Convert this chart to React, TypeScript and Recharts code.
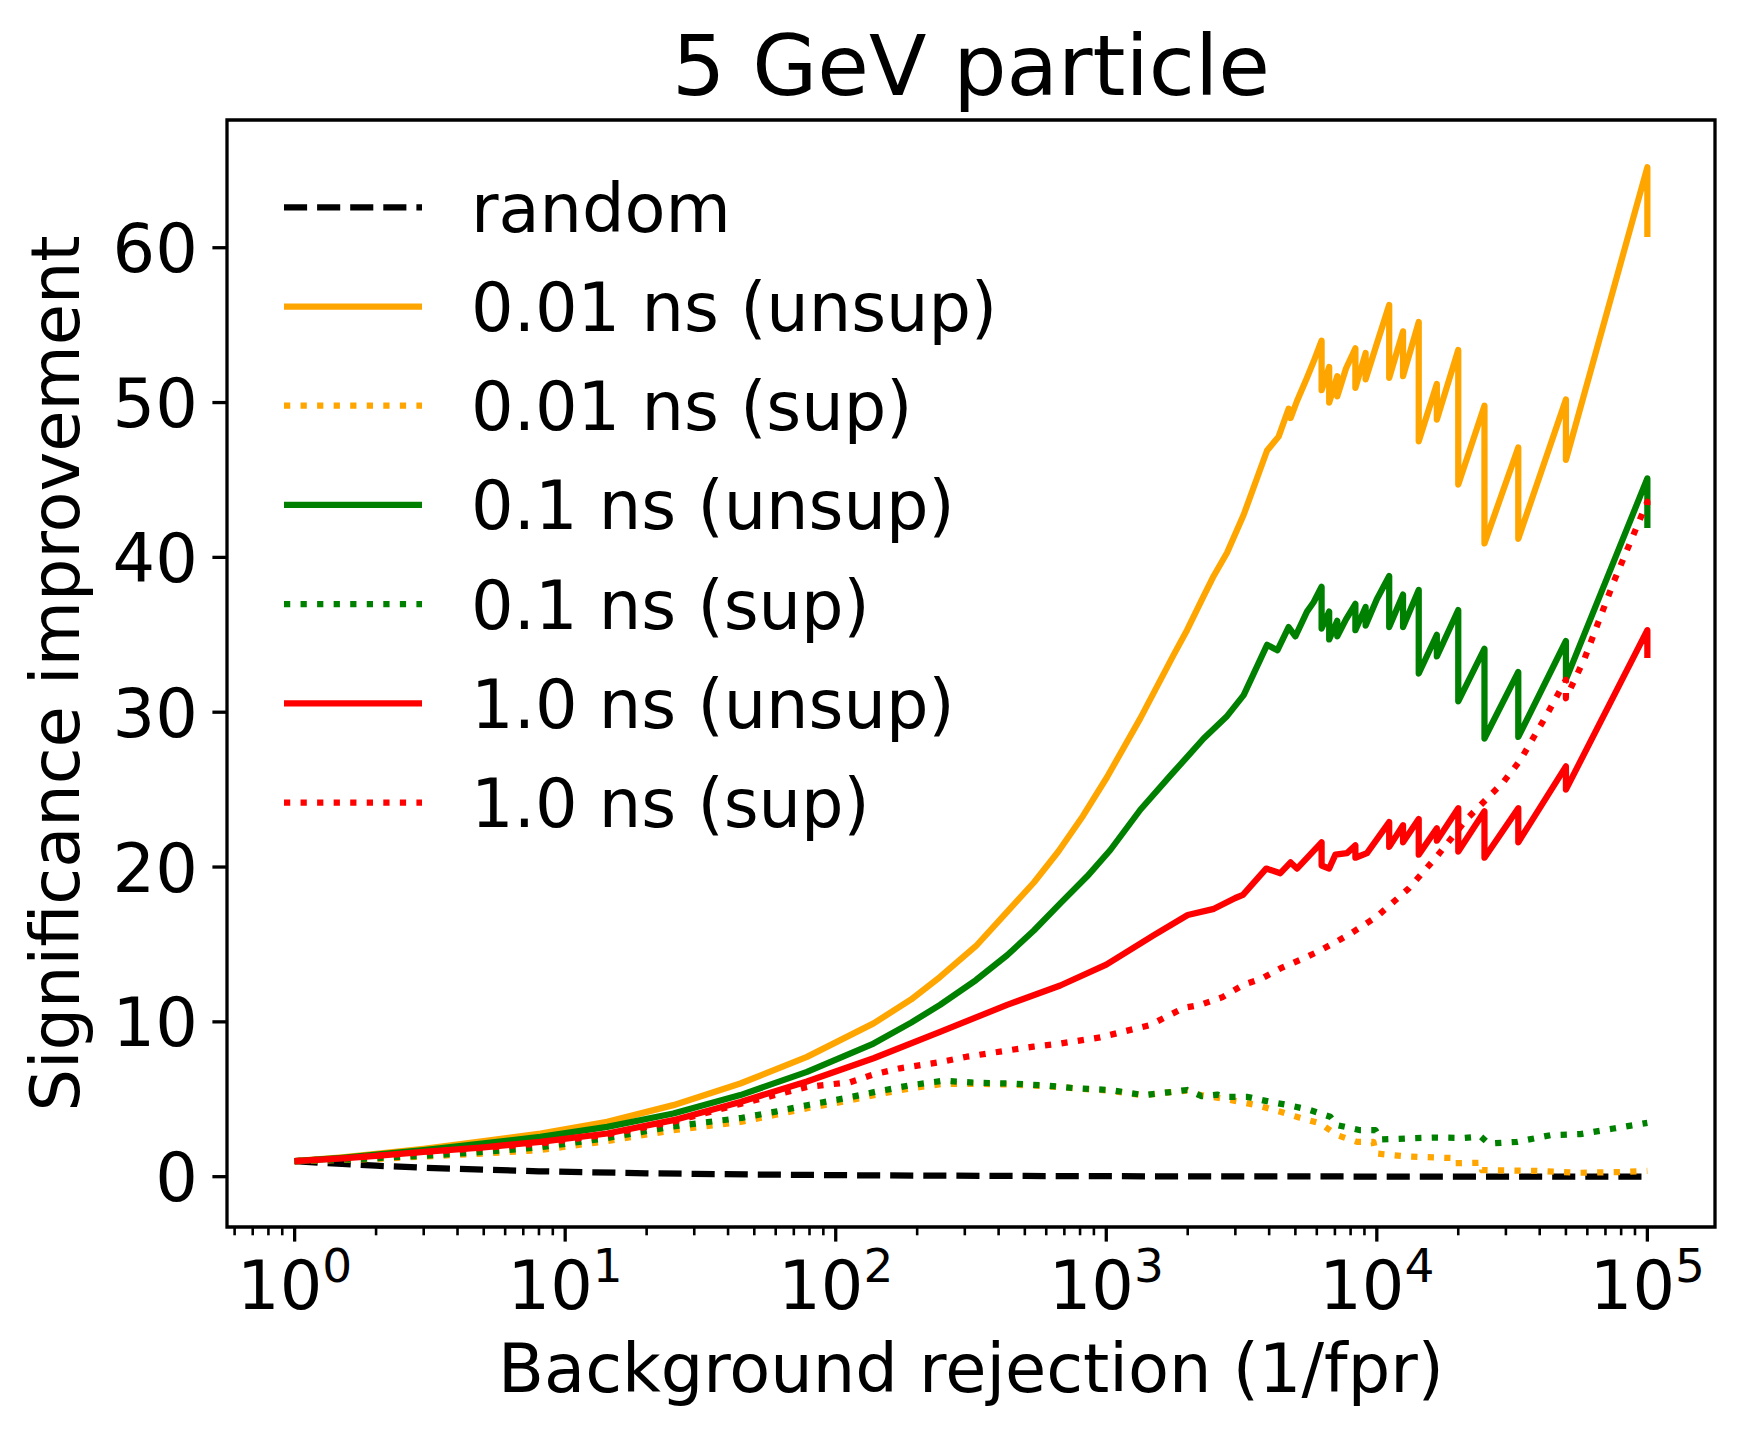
import React from "react";
import {
  LineChart,
  Line,
  XAxis,
  YAxis,
  ReferenceArea,
  Legend,
} from "recharts";

// [background rejection, significance improvement]
type Pt = [number, number];

const randomCut: Pt[] = [
  [1, 1.0], [1.5, 0.82], [2, 0.71], [3, 0.58], [5, 0.45], [8, 0.35], [12, 0.29],
  [20, 0.22], [30, 0.18], [50, 0.14], [100, 0.1], [200, 0.07], [500, 0.045],
  [1000, 0.032], [3000, 0.018], [10000, 0.01], [100000, 0.003],
];

const unsup001: Pt[] = [
  [1, 1.0], [1.5, 1.25], [2, 1.47], [3, 1.8], [5, 2.3], [8.1, 2.79],
  [14.3, 3.54], [25.1, 4.62], [44.4, 6.02], [78.3, 7.74], [138, 9.9],
  [190, 11.45], [243, 12.9], [330, 14.9], [430, 17.1], [540, 19.0],
  [665, 21.0], [820, 23.3], [1006, 25.8], [1336, 29.6],
  [1774, 33.7], [1988, 35.3], [2290, 37.5], [2495, 38.8], [2795, 40.3],
  [3220, 42.75], [3930, 46.9], [4335, 47.8], [4720, 49.6], [4800, 49.0],
  [5070, 50.1], [5520, 51.6], [5840, 52.65], [6250, 54.0], [6250, 50.8],
  [6667, 52.3], [6667, 50.0], [7143, 51.7], [7143, 50.4], [7692, 52.2],
  [8333, 53.5], [8333, 50.95], [9091, 53.2], [9091, 51.5], [10000, 53.8],
  [11111, 56.3], [11111, 51.6], [12500, 54.6], [12500, 51.7], [14286, 55.2],
  [14286, 47.5], [16667, 51.2], [16667, 48.9], [20000, 53.4], [20000, 44.7],
  [25000, 49.8], [25000, 40.9], [33333, 47.1], [33333, 41.2], [50000, 50.2],
  [50000, 46.3], [100000, 65.2], [100000, 60.7],
];

const sup001: Pt[] = [
  [1, 1.0], [1.5, 1.08], [2, 1.15], [3, 1.3], [5, 1.5], [8.1, 1.72],
  [14.3, 2.3], [25, 3.0], [45, 3.55], [60, 4.0], [80, 4.45], [107, 4.85],
  [142, 5.3], [188, 5.7], [251, 6.0], [333, 6.0], [442, 5.95], [586, 5.85],
  [780, 5.7], [1035, 5.55], [1374, 5.25], [1700, 5.45], [1990, 5.55],
  [2230, 5.27], [2790, 5.0], [3600, 4.62], [4400, 4.19], [5200, 3.8],
  [6180, 3.44], [7130, 2.68], [8450, 2.25], [9720, 2.25], [9900, 1.5],
  [12600, 1.32], [16200, 1.24], [19500, 1.2], [19500, 0.87], [24500, 0.9],
  [24500, 0.42], [38000, 0.38], [55000, 0.25], [80000, 0.3], [100000, 0.38],
];

const unsup01: Pt[] = [
  [1, 1.0], [1.5, 1.22], [2, 1.42], [3, 1.72], [5, 2.15], [8.1, 2.57],
  [14.3, 3.22], [25.1, 4.08], [44.4, 5.27], [78.3, 6.77], [138, 8.6],
  [190, 9.95], [243, 11.1], [330, 12.7], [430, 14.3], [540, 15.9],
  [676, 17.65], [850, 19.4], [1035, 21.1], [1336, 23.7],
  [1725, 25.9], [1988, 27.1], [2290, 28.3], [2780, 29.7], [3220, 31.1],
  [3930, 34.35], [4290, 34.0], [4720, 35.5], [5000, 34.9], [5520, 36.5],
  [5840, 37.1], [6250, 38.1], [6250, 35.4], [6667, 36.5], [6667, 34.7],
  [7143, 35.9], [7143, 34.9], [7692, 36.0], [8333, 37.0], [8333, 35.3],
  [9091, 36.8], [9091, 35.6], [10000, 37.3], [11111, 38.8], [11111, 35.5],
  [12500, 37.6], [12500, 35.5], [14286, 37.9], [14286, 32.5], [16667, 35.0],
  [16667, 33.6], [20000, 36.6], [20000, 30.7], [25000, 34.1], [25000, 28.3],
  [33333, 32.6], [33333, 28.4], [50000, 34.6], [50000, 32.1], [100000, 45.1],
  [100000, 41.9],
];

const sup01: Pt[] = [
  [1, 1.0], [1.5, 1.1], [2, 1.2], [3, 1.35], [5, 1.6], [8.1, 1.9],
  [14.3, 2.5], [25, 3.25], [45, 3.8], [60, 4.2], [80, 4.65], [107, 5.05],
  [142, 5.5], [188, 5.9], [251, 6.2], [333, 6.06], [442, 6.02], [586, 5.9],
  [780, 5.7], [1035, 5.6], [1374, 5.27], [1700, 5.45], [1990, 5.6],
  [2250, 5.2], [2570, 5.3], [2760, 5.16], [3310, 5.16], [4040, 4.83],
  [4710, 4.62], [5680, 4.3], [6730, 3.87], [7130, 3.33], [8690, 3.0],
  [9890, 3.0], [10300, 2.4], [12900, 2.47], [16600, 2.53], [20900, 2.5],
  [24200, 2.6], [25900, 2.14], [33000, 2.25], [43800, 2.68], [56500, 2.75],
  [75000, 3.11], [100000, 3.48],
];

const unsup1: Pt[] = [
  [1, 1.0], [1.5, 1.19], [2, 1.35], [3, 1.6], [5, 1.9], [8.1, 2.25],
  [14.3, 2.79], [25.1, 3.65], [44.4, 4.83], [78.3, 6.15], [138, 7.65],
  [243, 9.35], [430, 11.1], [676, 12.35], [1000, 13.7], [1500, 15.6],
  [2000, 16.9], [2500, 17.3], [3000, 18.0], [3200, 18.2], [3900, 19.9],
  [4400, 19.6], [4800, 20.3], [5070, 19.9], [6250, 21.6], [6250, 20.1],
  [6667, 19.9], [7030, 20.8], [7760, 20.9], [8333, 21.4], [8333, 20.6],
  [9200, 20.9], [11111, 22.9], [11111, 21.3], [12500, 22.7], [12500, 21.6],
  [14286, 23.1], [14286, 20.8], [16667, 22.5], [16667, 21.7], [20000, 23.8],
  [20000, 21.0], [25000, 23.6], [25000, 20.6], [33333, 23.8], [33333, 21.6],
  [50000, 26.5], [50000, 25.0], [100000, 35.3], [100000, 33.5],
];

const sup1: Pt[] = [
  [1, 1.0], [1.5, 1.18], [2, 1.34], [3, 1.57], [5, 1.87], [8.1, 2.15],
  [14.3, 2.72], [25.1, 3.55], [44.4, 4.7], [78.3, 5.8], [113, 6.1],
  [138, 6.6], [173, 7.0], [243, 7.4], [305, 7.75], [430, 8.15], [538, 8.4],
  [676, 8.6], [950, 9.0], [1455, 9.8], [1932, 10.9], [2230, 11.1],
  [2690, 11.6], [3220, 12.4], [3760, 12.8], [4400, 13.45], [5200, 14.0],
  [6000, 14.5], [7130, 15.2], [8000, 15.7], [10000, 16.8], [13100, 18.6],
  [16700, 20.7], [21500, 23.1], [29400, 25.5], [33900, 26.9], [42700, 29.9],
  [50000, 32.1], [50000, 30.9], [58700, 33.5], [75000, 38.4], [100000, 43.6],
  [100000, 42.8],
];

const seriesNames = [
  "random",
  "0.01 ns (unsup)",
  "0.01 ns (sup)",
  "0.1 ns (unsup)",
  "0.1 ns (sup)",
  "1.0 ns (unsup)",
  "1.0 ns (sup)",
];
const seriesData = [randomCut, unsup001, sup001, unsup01, sup01, unsup1, sup1];
const seriesColors = ["#000000", "#FFA500", "#FFA500", "#008000", "#008000", "#FF0000", "#FF0000"];
const seriesStyles = ["dashed", "solid", "dotted", "solid", "dotted", "solid", "dotted"];

const xMajorTicks = [1, 10, 100, 1000, 10000, 100000];
const xTickExponents = ["0", "1", "2", "3", "4", "5"];
const xMinorTicks = [
  0.6, 0.7, 0.8, 0.9,
  2, 3, 4, 5, 6, 7, 8, 9,
  20, 30, 40, 50, 60, 70, 80, 90,
  200, 300, 400, 500, 600, 700, 800, 900,
  2000, 3000, 4000, 5000, 6000, 7000, 8000, 9000,
  20000, 30000, 40000, 50000, 60000, 70000, 80000, 90000,
];
const yTicks = [0, 10, 20, 30, 40, 50, 60];

const W = 1744;
const H = 1436;
const FONT = "DejaVu Sans";
const LW = 6.25;
const X_MIN = Math.pow(10, -0.25);
const X_MAX = Math.pow(10, 5.25);
const Y_MIN = -3.25;
const Y_MAX = 68.25;

const dashFor = (s: string) =>
  s === "dashed" ? "23.1 10" : s === "dotted" ? "6.25 10.3" : undefined;

function XTick(props: any) {
  const { x, y, payload } = props;
  const v = payload.value as number;
  const idx = xMajorTicks.indexOf(v);
  const major = idx >= 0;
  return (
    <g>
      <line x1={x} x2={x} y1={y} y2={y + (major ? 14.6 : 8.3)} stroke="#000" strokeWidth={major ? 3.3 : 2.6} />
      {major && (
        <text x={x} y={y + 82} textAnchor="middle" fontSize={67} fontFamily={FONT} fill="#000">
          10
          <tspan dy={-27} fontSize={47}>
            {xTickExponents[idx]}
          </tspan>
        </text>
      )}
    </g>
  );
}

function YTick(props: any) {
  const { x, y, payload } = props;
  return (
    <g>
      <line x1={x - 14.6} x2={x} y1={y} y2={y} stroke="#000" strokeWidth={3.3} />
      <text x={x - 29.2} y={y + 24.5} textAnchor="end" fontSize={67} fontFamily={FONT} fill="#000">
        {payload.value}
      </text>
    </g>
  );
}

function LegendBox() {
  return (
    <svg width={1200} height={860} style={{ display: "block" }}>
      {seriesNames.map((name, i) => {
        const cy = 207.3 + i * 99.2;
        return (
          <g key={name}>
            <line
              x1={284}
              x2={422}
              y1={cy}
              y2={cy}
              stroke={seriesColors[i]}
              strokeWidth={LW}
              strokeDasharray={dashFor(seriesStyles[i])}
            />
            <text x={471} y={cy + 24.5} fontSize={67} fontFamily={FONT} fill="#000">
              {name}
            </text>
          </g>
        );
      })}
    </svg>
  );
}

export default function App() {
  const allTicks = [...xMinorTicks, ...xMajorTicks].sort((a, b) => a - b);
  return (
    <div style={{ position: "absolute", left: 0, top: 0, width: W, height: H, background: "#fff" }}>
      <LineChart
        width={W}
        height={H}
        margin={{ top: 120, right: 29, left: 107, bottom: 59 }}
      >
        <XAxis
          dataKey="x"
          type="number"
          scale="log"
          domain={[X_MIN, X_MAX]}
          allowDataOverflow
          ticks={allTicks}
          interval={0}
          tick={<XTick />}
          tickSize={0}
          tickMargin={0}
          tickLine={false}
          axisLine={false}
          height={150}
        />
        <YAxis
          type="number"
          domain={[Y_MIN, Y_MAX]}
          allowDataOverflow
          ticks={yTicks}
          interval={0}
          tick={<YTick />}
          tickSize={0}
          tickMargin={0}
          tickLine={false}
          axisLine={false}
          width={120}
        />
        {seriesData.map((pts, i) => (
          <Line
            key={seriesNames[i]}
            name={seriesNames[i]}
            data={pts.map(([x, y]) => ({ x, y }))}
            dataKey="y"
            type="linear"
            stroke={seriesColors[i]}
            strokeWidth={LW}
            strokeDasharray={dashFor(seriesStyles[i])}
            strokeLinejoin="round"
            dot={false}
            activeDot={false}
            isAnimationActive={false}
          />
        ))}
        <ReferenceArea
          x1={X_MIN}
          x2={X_MAX}
          y1={Y_MIN}
          y2={Y_MAX}
          fill="none"
          fillOpacity={0}
          stroke="#000"
          strokeWidth={3.3}
          ifOverflow="visible"
        />
        <Legend
          layout="horizontal"
          verticalAlign="middle"
          content={() => <LegendBox />}
          wrapperStyle={{ position: "absolute", left: 0, top: 0, width: 1200, height: 860 }}
        />
      </LineChart>
      <svg
        width={W}
        height={H}
        style={{ position: "absolute", left: 0, top: 0, pointerEvents: "none" }}
      >
        <text x={971} y={95} textAnchor="middle" fontSize={84} fontFamily={FONT} fill="#000">
          5 GeV particle
        </text>
        <text x={971} y={1391.7} textAnchor="middle" fontSize={67} fontFamily={FONT} fill="#000">
          Background rejection (1/fpr)
        </text>
        <text
          x={0}
          y={0}
          transform="translate(79 673.5) rotate(-90)"
          textAnchor="middle"
          fontSize={67}
          fontFamily={FONT}
          fill="#000"
        >
          Significance improvement
        </text>
      </svg>
    </div>
  );
}
